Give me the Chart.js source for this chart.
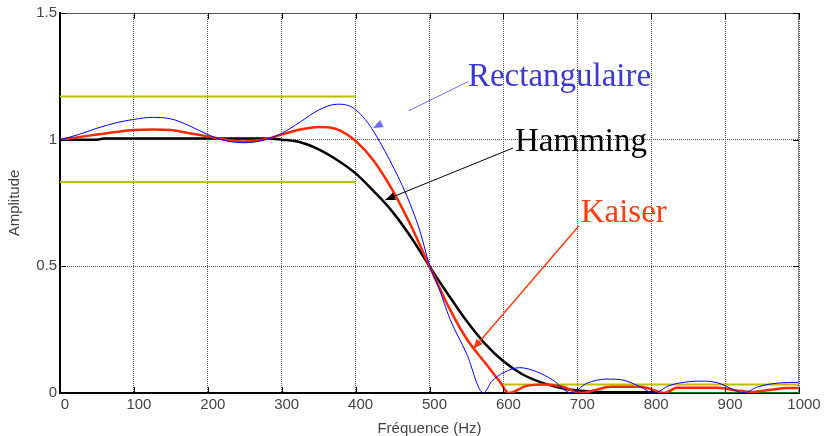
<!DOCTYPE html>
<html>
<head>
<meta charset="utf-8">
<script src="https://cdn.jsdelivr.net/npm/chart.js@4.4.1/dist/chart.umd.min.js"></script>
<style>
  html, body { margin: 0; padding: 0; background: #fff; }
  canvas { display: block; }
</style>
</head>
<body>
<canvas id="filtre" width="824" height="436"></canvas>
<script>
// Réponse en amplitude d'un passe-bas RIF : fenêtres Rectangulaire, Hamming et Kaiser

// fenêtre rectangulaire (bleu)
const rectFreq = [0, 25, 50, 75, 100, 125, 150, 175, 200, 225, 250, 275, 300, 325, 350, 375, 390, 400, 413, 425, 433, 446, 469, 487, 500, 512, 528, 550, 573, 584, 600, 622, 645, 667, 692, 712, 740, 760, 785, 803, 825, 852, 870, 890, 910, 924, 945, 975, 1000];
const rectAmp  = [1.0, 1.02, 1.045, 1.066, 1.08, 1.088, 1.082, 1.055, 1.02, 0.995, 0.988, 0.998, 1.025, 1.07, 1.117, 1.14, 1.135, 1.118, 1.08, 1.03, 0.99, 0.92, 0.78, 0.64, 0.505, 0.42, 0.29, 0.157, 0.0, 0.045, 0.08, 0.1, 0.084, 0.051, 0.0, 0.037, 0.055, 0.052, 0.025, 0.0, 0.03, 0.045, 0.047, 0.04, 0.015, 0.0, 0.025, 0.04, 0.042];

// fenêtre de Hamming (noir)
const hammFreq = [0, 50, 60, 100, 200, 280, 300, 325, 350, 375, 400, 425, 450, 475, 500, 525, 550, 575, 600, 625, 650, 675, 700, 725, 750, 810];
const hammAmp  = [1.0, 1.0, 1.005, 1.005, 1.005, 1.005, 1.0, 0.99, 0.962, 0.92, 0.867, 0.795, 0.715, 0.615, 0.5, 0.39, 0.285, 0.195, 0.125, 0.075, 0.043, 0.022, 0.01, 0.005, 0.003, 0.003];

// fenêtre de Kaiser (rouge)
const kaisFreq = [0, 25, 50, 75, 100, 125, 150, 175, 200, 225, 250, 275, 300, 325, 350, 365, 380, 400, 425, 450, 475, 500, 525, 550, 575, 595, 607, 631, 654, 680, 705, 722, 745, 785, 800, 818, 835, 890, 915, 938, 960, 985, 1000];
const kaisAmp  = [1.0, 1.01, 1.02, 1.03, 1.038, 1.04, 1.038, 1.025, 1.013, 1.0, 0.993, 1.0, 1.02, 1.04, 1.05, 1.048, 1.035, 0.995, 0.915, 0.8, 0.66, 0.5, 0.345, 0.215, 0.12, 0.045, 0.0, 0.028, 0.034, 0.025, 0.0, 0.01, 0.025, 0.025, 0.015, 0.0, 0.021, 0.021, 0.01, 0.004, 0.012, 0.02, 0.02];

// gabarit
const bandePassanteFreq = [0, 400];
const gabaritHaut = [1.17, 1.17];
const gabaritBas = [0.833, 0.833];
const bandeCoupeeFreq = [600, 1000];
const gabaritCoupe = [0.034, 0.034];
const zeroFreq = [810, 1000];
const zeroAmp = [0, 0];

const xTicks = [0, 100, 200, 300, 400, 500, 600, 700, 800, 900, 1000];
const yTicks = [0, 0.5, 1, 1.5];

const toPts = (xs, ys) => xs.map((x, i) => ({ x: x, y: ys[i] }));

// étiquettes fléchées (coordonnées en Hz / amplitude)
const etiquettes = [
  { text: 'Rectangulaire', color: '#3a3ad0', lineColor: '#6d6df2', width: 1,
    at: [552, 1.212], from: [552, 1.229], to: [472, 1.114], tip: [423.5, 1.046] },
  { text: 'Hamming', color: '#000000', lineColor: '#000000', width: 1,
    at: [615.7, 0.955], from: [613, 0.967], to: [440, 0.762], tip: [440, 0.762] },
  { text: 'Kaiser', color: '#ff3c14', lineColor: '#ff3c14', width: 1.5,
    at: [704.6, 0.674], from: [702, 0.659], to: [559, 0.174], tip: [559, 0.174] }
];

const cadrePlugin = {
  id: 'cadre',
  afterDatasetsDraw(chart) {
    const { ctx, chartArea: a, scales: { x, y } } = chart;
    ctx.save();
    // cadre haut / droite
    ctx.lineWidth = 1;
    ctx.strokeStyle = '#555';
    ctx.beginPath(); ctx.moveTo(a.left, a.top + 0.5); ctx.lineTo(a.right, a.top + 0.5); ctx.stroke();
    ctx.strokeStyle = '#888';
    ctx.beginPath(); ctx.moveTo(a.right - 0.5, a.top); ctx.lineTo(a.right - 0.5, a.bottom); ctx.stroke();
    // graduations intérieures
    ctx.strokeStyle = '#000';
    xTicks.forEach(v => {
      const px = Math.round(x.getPixelForValue(v)) + 0.5;
      ctx.beginPath(); ctx.moveTo(px, a.bottom); ctx.lineTo(px, a.bottom - 6); ctx.stroke();
      ctx.beginPath(); ctx.moveTo(px, a.top); ctx.lineTo(px, a.top + 6); ctx.stroke();
    });
    yTicks.forEach(v => {
      const py = Math.round(y.getPixelForValue(v)) + 0.5;
      ctx.beginPath(); ctx.moveTo(a.left, py); ctx.lineTo(a.left + 6, py); ctx.stroke();
      ctx.beginPath(); ctx.moveTo(a.right, py); ctx.lineTo(a.right - 6, py); ctx.stroke();
    });

    // étiquettes et flèches
    etiquettes.forEach(e => {
      const p = (v) => [x.getPixelForValue(v[0]), y.getPixelForValue(v[1])];
      const f = p(e.from), t = p(e.to), tip = p(e.tip);
      ctx.strokeStyle = e.lineColor;
      ctx.lineWidth = e.width;
      ctx.beginPath(); ctx.moveTo(f[0], f[1]); ctx.lineTo(t[0], t[1]); ctx.stroke();
      let dx = tip[0] - f[0], dy = tip[1] - f[1];
      const len = Math.hypot(dx, dy); dx /= len; dy /= len;
      const L = 10, w = 4;
      const bx = tip[0] - dx * L, by = tip[1] - dy * L;
      ctx.fillStyle = e.lineColor;
      ctx.beginPath();
      ctx.moveTo(tip[0], tip[1]);
      ctx.lineTo(bx - dy * w, by + dx * w);
      ctx.lineTo(bx + dy * w, by - dx * w);
      ctx.closePath(); ctx.fill();
      const a0 = p(e.at);
      ctx.font = '33px "Liberation Serif", "Times New Roman", serif';
      ctx.fillStyle = e.color;
      ctx.textBaseline = 'alphabetic';
      ctx.textAlign = 'left';
      ctx.fillText(e.text, a0[0], a0[1]);
    });
    ctx.restore();
  }
};

const courbe = (label, xs, ys, color, width, order) => ({
  label: label,
  data: toPts(xs, ys),
  borderColor: color,
  borderWidth: width,
  pointRadius: 0,
  fill: false,
  cubicInterpolationMode: 'monotone',
  order: order
});

const police = { family: '"Liberation Sans", Arial, sans-serif', size: 15 };

const ctx = document.getElementById('filtre').getContext('2d');
new Chart(ctx, {
  type: 'line',
  data: {
    datasets: [
      courbe('Rectangulaire', rectFreq, rectAmp, '#0000ff', 1, 1),
      courbe('Kaiser', kaisFreq, kaisAmp, '#ff2800', 2.5, 2),
      courbe('Hamming', hammFreq, hammAmp, '#000000', 2.5, 3),
      courbe('Gabarit haut', bandePassanteFreq, gabaritHaut, '#bebe00', 2, 4),
      courbe('Gabarit bas', bandePassanteFreq, gabaritBas, '#bebe00', 2, 4),
      courbe('Gabarit coupe', bandeCoupeeFreq, gabaritCoupe, '#bebe00', 2, 4),
      courbe('Zéro', zeroFreq, zeroAmp, '#008000', 2, 5)
    ]
  },
  options: {
    responsive: false,
    animation: false,
    layout: { padding: { top: 13, right: 25, left: 0, bottom: 0 } },
    plugins: {
      legend: { display: false },
      tooltip: { enabled: false }
    },
    scales: {
      x: {
        type: 'linear',
        min: 0,
        max: 1000,
        afterFit: (s) => { s.height = 43; },
        afterBuildTicks: (s) => { s.ticks = xTicks.map(v => ({ value: v })); },
        ticks: {
          autoSkip: false,
          maxRotation: 0,
          padding: 3,
          labelOffset: 5,
          color: '#444',
          font: police,
          callback: (v) => String(v)
        },
        grid: { color: '#555', lineWidth: 1, drawTicks: false },
        border: { color: '#000', width: 2, dash: [1, 1] },
        title: {
          display: true,
          text: 'Fréquence (Hz)',
          color: '#444',
          padding: { top: 0, bottom: 0 },
          font: { ...police, lineHeight: 1 }
        }
      },
      y: {
        min: 0,
        max: 1.5,
        afterFit: (s) => { s.width = 60; },
        afterBuildTicks: (s) => { s.ticks = yTicks.map(v => ({ value: v })); },
        ticks: {
          padding: 3,
          color: '#444',
          font: police,
          callback: (v) => String(v)
        },
        grid: { color: '#555', lineWidth: 1, drawTicks: false },
        border: { color: '#000', width: 2, dash: [1, 1] },
        title: {
          display: true,
          text: 'Amplitude',
          color: '#444',
          padding: { top: 7, bottom: 0 },
          font: { ...police, lineHeight: 1 }
        }
      }
    }
  },
  plugins: [cadrePlugin]
});
</script>
</body>
</html>
